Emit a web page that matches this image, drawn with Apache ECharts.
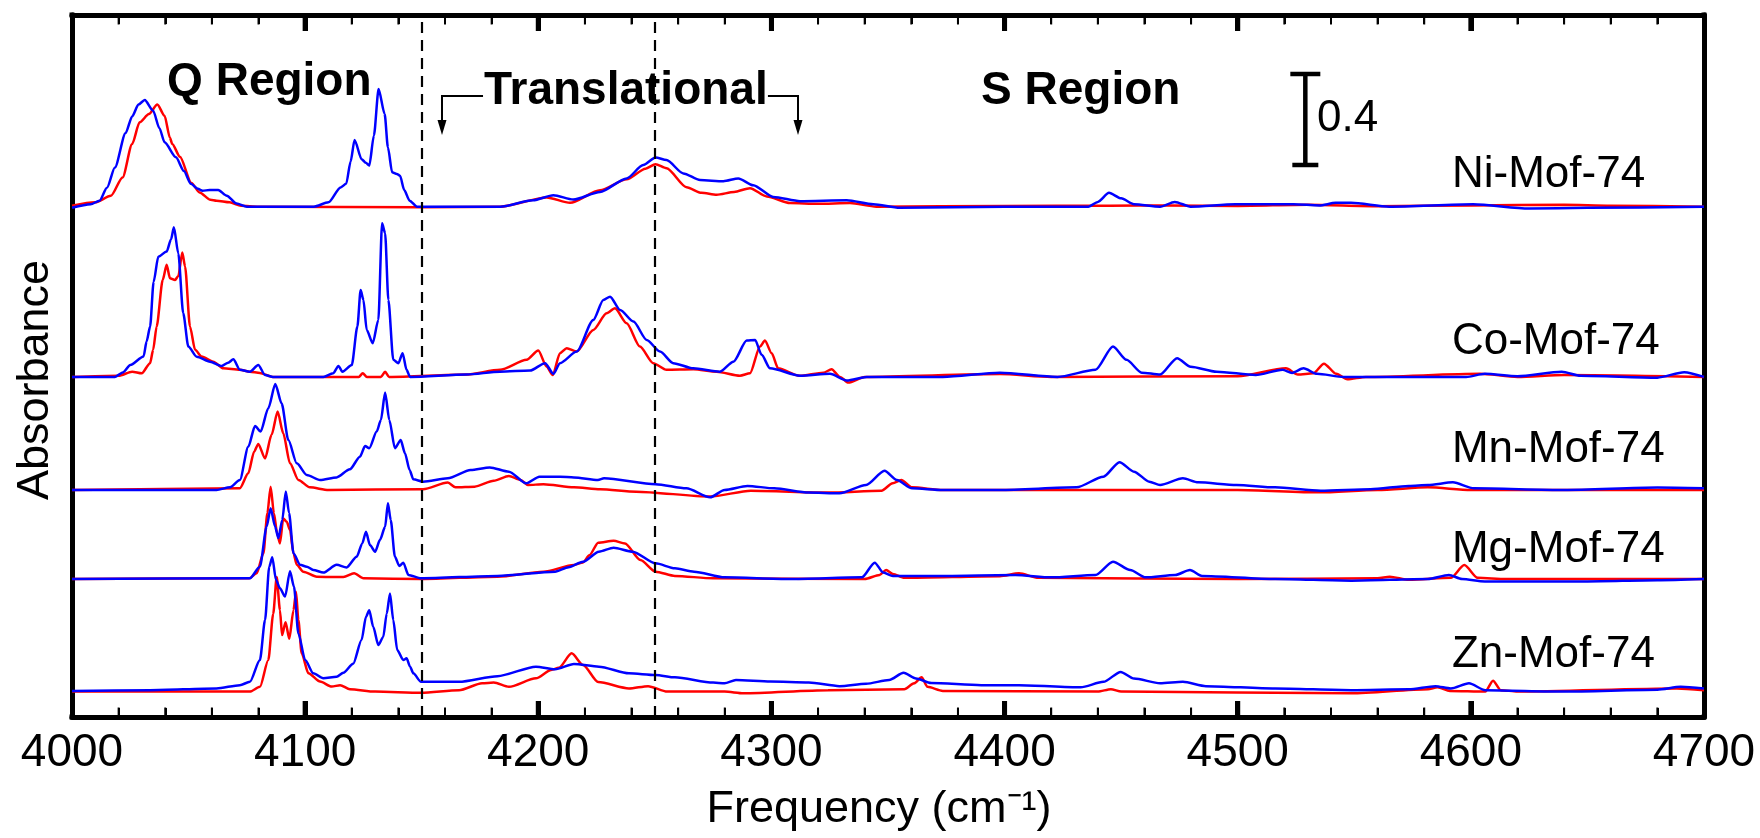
<!DOCTYPE html>
<html><head><meta charset="utf-8">
<script src="https://cdn.jsdelivr.net/npm/echarts@6.0.0/dist/echarts.min.js"></script>
<style>html,body{margin:0;padding:0;background:#fff}#c{width:1760px;height:838px}</style>
</head><body><div id="c"></div>
<script>
// ---------- DATA ----------
const xTickLabels = [4000, 4100, 4200, 4300, 4400, 4500, 4600, 4700];
const samples = ['Ni-Mof-74', 'Co-Mof-74', 'Mn-Mof-74', 'Mg-Mof-74', 'Zn-Mof-74'];
const offsets = [2.149, 1.432, 0.956, 0.581, 0.107];          // vertical stacking offsets (absorbance)
const labelY  = [2.219, 1.516, 1.061, 0.640, 0.198];           // baseline of sample labels (absorbance)
const regionDividers = [4150, 4250];
const scaleBar = {x: 4529, y0: 2.316, y1: 2.716, label: '0.4'};

// [frequency cm-1, absorbance above baseline]
const niRed = [[4000,0.004],[4010,0.018],[4016.7,0.046],[4021.7,0.123],[4025.8,0.264],[4029,0.355],[4033,0.39],[4036.6,0.43],[4039.7,0.383],[4042,0.29],[4043,0.264],[4046.3,0.21],[4051.2,0.1],[4054.7,0.06],[4059.4,0.029],[4062,0.025],[4067.6,0.018],[4072.5,0.004],[4080,0],[4150,-0.003],[4183.6,0],[4203.6,0.039],[4213.6,0.016],[4226.5,0.069],[4237.9,0.115],[4246,0.16],[4250.3,0.179],[4255,0.162],[4263.6,0.082],[4270,0.058],[4276.5,0.05],[4284,0.062],[4290.8,0.078],[4298,0.043],[4308,0.015],[4320,0.012],[4333.7,0.015],[4345,0],[4400,0.003],[4445,0.004],[4470,0.005],[4500,0.003],[4530,0.008],[4560,0.002],[4600,0.005],[4640,0.008],[4660,0.004],[4700,0]];
const niBlue = [[4000,-0.005],[4008,0.01],[4011.8,0.025],[4015,0.08],[4018.4,0.165],[4023,0.31],[4025.8,0.38],[4028.5,0.43],[4031.2,0.449],[4034.8,0.404],[4037.5,0.33],[4039.7,0.271],[4044.6,0.208],[4048,0.15],[4051,0.096],[4054,0.075],[4056,0.067],[4059,0.07],[4062.7,0.07],[4066.4,0.046],[4070.6,0.013],[4075,0],[4103.7,0],[4110,0.018],[4115.2,0.081],[4117.6,0.096],[4119.5,0.19],[4121.2,0.281],[4124.2,0.2],[4126,0.185],[4127.5,0.173],[4129.5,0.3],[4131.5,0.495],[4134.1,0.39],[4135.5,0.25],[4137.3,0.145],[4139.3,0.138],[4140.7,0.13],[4142.5,0.07],[4144.8,0.025],[4148,0],[4183.6,0],[4197.8,0.027],[4206.5,0.048],[4215,0.03],[4226.5,0.062],[4237.9,0.119],[4245,0.175],[4250.3,0.207],[4255,0.196],[4262.2,0.14],[4269.4,0.112],[4279.4,0.107],[4285.8,0.119],[4292.2,0.09],[4300.8,0.041],[4312.3,0.023],[4332.3,0.027],[4343.7,0.01],[4355,-0.005],[4400,0],[4436,0],[4440,0.02],[4444.8,0.058],[4450,0.035],[4455.5,0.01],[4466.7,0],[4473,0.02],[4479.8,0],[4499,0.01],[4524,0.01],[4535,0.005],[4542,0.016],[4548.6,0.016],[4565,0],[4601,0.01],[4625,-0.008],[4650,-0.005],[4700,0]];
const coRed = [[4000,0],[4020,0.005],[4025.8,0.022],[4029.9,0.015],[4033.5,0.058],[4034.8,0.114],[4036.3,0.212],[4038.9,0.408],[4040.6,0.472],[4042,0.416],[4044.2,0.408],[4045.6,0.425],[4047.3,0.524],[4048.5,0.465],[4050.6,0.212],[4052.8,0.114],[4055.6,0.086],[4060.6,0.064],[4064.9,0.036],[4072,0.03],[4076.3,0.022],[4080.6,0.017],[4086,0],[4123,0],[4124.7,0.015],[4126.5,0],[4132.5,0],[4134.3,0.022],[4136,0],[4169,0.01],[4183.6,0.03],[4195,0.072],[4200,0.111],[4203.6,0.043],[4206.2,0.008],[4209.3,0.1],[4212.2,0.121],[4216.5,0.107],[4223.6,0.198],[4229.3,0.268],[4232.9,0.289],[4237.9,0.226],[4243.6,0.128],[4249.3,0.058],[4255,0.03],[4266.5,0.032],[4276.5,0.022],[4286.5,0.005],[4290.8,0.015],[4295.1,0.128],[4297.2,0.153],[4300.1,0.1],[4302.9,0.036],[4312,0.005],[4322.3,0.018],[4325.8,0.032],[4329.4,0],[4333,-0.024],[4340,0],[4398,0.012],[4420,0],[4500,0.003],[4520.7,0.036],[4525.8,0.01],[4532.4,0.015],[4537,0.056],[4542.3,0.013],[4547,-0.01],[4555,0],[4604,0.013],[4620,0],[4640,0.008],[4700,0]];
const coBlue = [[4000,0],[4018.4,0],[4022,0.02],[4025,0.05],[4030.7,0.086],[4032,0.15],[4033.5,0.212],[4035,0.4],[4037,0.506],[4040.6,0.528],[4042.5,0.58],[4043.7,0.63],[4045.6,0.52],[4047.7,0.268],[4049.9,0.128],[4053.5,0.085],[4059.2,0.064],[4064.2,0.046],[4067,0.06],[4069.2,0.074],[4072,0.03],[4076.3,0.022],[4079.9,0.05],[4082.8,0.008],[4086.3,0],[4107.8,0],[4112,0.015],[4114.3,0.046],[4116,0.022],[4120,0.05],[4122.4,0.212],[4123.8,0.366],[4125,0.324],[4126.4,0.198],[4129,0.142],[4131.4,0.24],[4133,0.647],[4134.3,0.605],[4135.7,0.324],[4137.8,0.072],[4140,0.058],[4141.8,0.1],[4143.5,0.03],[4145,0],[4169.3,0.01],[4183.6,0.022],[4196.5,0.027],[4202.9,0.058],[4206.5,0.013],[4209.3,0.058],[4216.5,0.107],[4223.6,0.24],[4227.9,0.324],[4230.8,0.338],[4235.1,0.282],[4240.8,0.233],[4246.5,0.156],[4252.2,0.107],[4257.9,0.058],[4266.5,0.036],[4277.9,0.022],[4283.7,0.064],[4289.4,0.153],[4293,0.156],[4295.8,0.093],[4299.4,0.036],[4312.3,0.005],[4325.1,0.013],[4332.3,-0.015],[4340.9,0],[4373.5,0],[4398,0.018],[4422.7,0],[4439,0.03],[4446.5,0.128],[4452.3,0.072],[4458.8,0.018],[4466.7,0.01],[4474,0.079],[4479.8,0.043],[4491,0.022],[4507.7,0.008],[4519.2,0.03],[4523.3,0.017],[4528.2,0.036],[4534,0.013],[4545.5,0],[4598,0],[4606,0.013],[4620,0.003],[4639,0.022],[4647,0.005],[4680,-0.003],[4691.5,0.02],[4700,0]];
const mnRed = [[4000,0],[4072,0.007],[4075.6,0.07],[4078.1,0.161],[4079.9,0.194],[4082.8,0.133],[4085.6,0.232],[4088.2,0.33],[4090.6,0.239],[4093.5,0.112],[4097.1,0.042],[4102,0.011],[4110,0],[4150.6,0.003],[4161.2,0.031],[4164.5,0.011],[4172.7,0.014],[4180.9,0.039],[4187.4,0.059],[4192.4,0.042],[4195.6,0.021],[4202.2,0.024],[4215.3,0.011],[4226.5,0.003],[4242,-0.007],[4273.7,-0.028],[4291.2,-0.003],[4324.3,-0.011],[4347.2,-0.003],[4352,0.028],[4355.7,0.042],[4360.3,0.011],[4373.5,0],[4500,0],[4535,-0.01],[4560,0],[4581.6,0.011],[4600,0],[4700,0]];
const mnBlue = [[4000,0],[4062,0],[4067.8,0.011],[4072,0.042],[4075.6,0.182],[4078.5,0.269],[4080.9,0.246],[4084.2,0.344],[4087.2,0.446],[4089.9,0.365],[4092.8,0.21],[4096.4,0.112],[4100.7,0.063],[4106.4,0.042],[4113.5,0.053],[4119.2,0.087],[4123.5,0.14],[4125.7,0.185],[4127.5,0.176],[4130.7,0.246],[4132.5,0.295],[4134.3,0.41],[4136.1,0.295],[4138.5,0.176],[4141,0.21],[4142.8,0.155],[4144.8,0.084],[4146.4,0.045],[4150.6,0.035],[4161.2,0.049],[4171,0.084],[4179.2,0.095],[4187.4,0.077],[4194.8,0.028],[4200.5,0.056],[4209.3,0.056],[4215.3,0.053],[4225.6,0.042],[4228.2,0.049],[4250.3,0.024],[4263.5,0.007],[4273.7,-0.031],[4279.9,0],[4289.7,0.017],[4301.2,0.007],[4316,-0.011],[4329.2,-0.014],[4340.6,0.021],[4348.5,0.081],[4353.8,0.042],[4360.3,0.007],[4373.5,0],[4398,0],[4430.9,0.011],[4442.4,0.056],[4449.3,0.117],[4455.5,0.077],[4462.1,0.035],[4466.7,0.021],[4476.5,0.049],[4483,0.032],[4499.5,0.021],[4516,0.011],[4535.6,-0.003],[4557,0.003],[4573.4,0.017],[4581.6,0.021],[4592.3,0.032],[4601.3,0.007],[4640,0],[4680,0.01],[4700,0.007]];
const mgRed = [[4000,0],[4076,0.003],[4079.2,0.024],[4082.1,0.108],[4083.8,0.277],[4085.2,0.389],[4086.6,0.277],[4088,0.192],[4089.2,0.15],[4090.6,0.255],[4092.1,0.241],[4093.5,0.206],[4095,0.108],[4096.4,0.06],[4099.2,0.031],[4105,0.01],[4116.4,0.008],[4121,0.024],[4125,0.003],[4150,0],[4182.5,0.01],[4202.2,0.031],[4215.3,0.059],[4219.2,0.07],[4221.9,0.1],[4225.7,0.153],[4232.3,0.161],[4237.2,0.15],[4243.8,0.08],[4250.3,0.031],[4258.6,0.013],[4275,0.003],[4340,0],[4346.4,0.017],[4349.2,0.038],[4352.1,0.021],[4357,0.005],[4398,0.012],[4406.2,0.024],[4414.5,0.005],[4500,0],[4560,0.003],[4565.2,0.01],[4573.4,-0.003],[4591.4,0.005],[4597.2,0.059],[4602.9,0.005],[4615,0],[4700,0]];
const mgBlue = [[4000,0],[4076.3,0.003],[4080.6,0.052],[4083.5,0.221],[4085.2,0.298],[4087.1,0.221],[4088.5,0.172],[4090.2,0.249],[4091.7,0.369],[4093.1,0.278],[4095,0.109],[4097.8,0.06],[4100.7,0.052],[4103.5,0.038],[4107.8,0.027],[4113.5,0.06],[4117.8,0.049],[4122.1,0.094],[4124.5,0.15],[4126.1,0.199],[4127.8,0.143],[4130,0.115],[4132.1,0.165],[4134.3,0.22],[4135.5,0.319],[4136.7,0.249],[4138.5,0.094],[4140.4,0.055],[4142.1,0.069],[4144.3,0.017],[4149.7,0.003],[4182.5,0.013],[4207.2,0.031],[4213,0.05],[4219.2,0.073],[4226,0.115],[4232.3,0.132],[4240.5,0.115],[4250.3,0.066],[4258.6,0.045],[4266.8,0.031],[4279.9,0.007],[4307.8,0],[4338.8,0.007],[4344.3,0.069],[4348,0.027],[4352.1,0.013],[4373.5,0.013],[4404.6,0.017],[4420,0.007],[4439,0.017],[4446.5,0.073],[4453.9,0.038],[4460.5,0.007],[4473.2,0.017],[4479.5,0.038],[4484.7,0.013],[4516,0],[4548.8,-0.007],[4581.6,0],[4590.6,0.017],[4596.2,0],[4606,-0.01],[4650,-0.01],[4680,-0.005],[4700,0]];
const znRed = [[4000,0],[4076.3,0],[4080.6,0.02],[4084.2,0.133],[4086.3,0.327],[4087.8,0.482],[4089.2,0.343],[4090.1,0.238],[4091.6,0.292],[4093.2,0.222],[4095,0.343],[4096.1,0.42],[4097.1,0.301],[4098.5,0.161],[4101.4,0.077],[4106.4,0.042],[4111.4,0.021],[4115,0.027],[4119.2,0.01],[4130,0],[4149.7,-0.005],[4166,0.006],[4175.9,0.035],[4180.9,0.038],[4187.4,0.02],[4199,0.056],[4205.5,0.091],[4208.8,0.1],[4214.3,0.161],[4219.2,0.112],[4225.7,0.04],[4238.9,0.013],[4247.1,0.023],[4255.3,0],[4279.9,0],[4288,-0.007],[4324.3,0.006],[4357,0.01],[4361.2,0.035],[4364.4,0.06],[4366.9,0.02],[4373.5,0.003],[4440,0],[4445.6,0.01],[4450,0],[4548.8,-0.007],[4581.6,0.01],[4585.7,0.018],[4591,0.003],[4606.2,0],[4609.5,0.046],[4612.8,0.006],[4620,0],[4688.3,0.013],[4700,0.006]];
const znBlue = [[4000,0.002],[4033.5,0.006],[4062,0.013],[4072,0.027],[4076.3,0.041],[4080.6,0.133],[4082.8,0.301],[4084.6,0.526],[4085.9,0.566],[4087.5,0.47],[4089.2,0.435],[4091.4,0.4],[4093.5,0.507],[4095.2,0.442],[4097.1,0.245],[4100,0.133],[4103.5,0.077],[4107.8,0.056],[4113.5,0.062],[4116.4,0.079],[4120.6,0.117],[4124.2,0.217],[4126.1,0.315],[4127.5,0.343],[4129.2,0.273],[4131.4,0.196],[4133.5,0.23],[4135,0.329],[4136.4,0.413],[4137.8,0.301],[4139.5,0.175],[4142.1,0.133],[4143.5,0.14],[4145,0.105],[4146.4,0.077],[4149.7,0.041],[4166,0.041],[4182.5,0.065],[4199,0.105],[4207.2,0.094],[4215.3,0.116],[4226,0.105],[4238.9,0.077],[4250.3,0.07],[4258.6,0.06],[4275,0.038],[4279.9,0.035],[4284.8,0.049],[4299.6,0.042],[4316,0.038],[4329.2,0.023],[4340.6,0.033],[4350.5,0.049],[4356.7,0.079],[4362,0.055],[4368.5,0.036],[4390,0.027],[4406.2,0.027],[4432.6,0.018],[4442.4,0.041],[4449.8,0.083],[4455.5,0.055],[4466.7,0.035],[4476.5,0.041],[4486.4,0.023],[4516,0.013],[4548.8,0.006],[4573.4,0.01],[4584.8,0.023],[4591.4,0.013],[4599.2,0.035],[4606.2,0.006],[4640,0],[4680,0.008],[4690,0.02],[4700,0.013]];

const redSets  = [niRed, coRed, mnRed, mgRed, znRed];
const blueSets = [niBlue, coBlue, mnBlue, mgBlue, znBlue];

// ---------- CHART ----------
const FONT = '"Liberation Sans", Arial, sans-serif';
const RED = '#ff0000', BLUE = '#0000ff';
const X_MIN = 4000, X_MAX = 4700, MAJOR = 100, MINOR = 20, Y_MAX = 2.956;
const chart = echarts.init(document.getElementById('c'), null, {renderer: 'canvas'});

const series = [];
samples.forEach((name, i) => {
  [[redSets[i], RED, 'red'], [blueSets[i], BLUE, 'blue']].forEach(([arr, col, tag]) => {
    series.push({
      name: name + ' ' + tag, type: 'line', data: arr.map(p => [p[0], p[1] + offsets[i]]),
      showSymbol: false, symbol: 'none', smooth: 0.25, smoothMonotone: 'x',
      lineStyle: {color: col, width: 2.5}, itemStyle: {color: col}, silent: true, z: 3
    });
  });
});
series[0].markLine = {
  silent: true, symbol: ['none', 'none'], label: {show: false},
  lineStyle: {color: '#000', width: 2.2, type: [11, 7]},
  data: regionDividers.map(v => ({xAxis: v}))
};

function xAxisCfg(pos, withLabels) {
  return {
    type: 'value', position: pos, min: X_MIN, max: X_MAX, interval: MAJOR,
    axisLine: {show: true, onZero: false, lineStyle: {color: '#000', width: 5}},
    axisTick: {show: true, inside: true, length: 16, lineStyle: {color: '#000', width: 5}},
    minorTick: {show: true, splitNumber: MAJOR / MINOR, length: 9, lineStyle: {color: '#000', width: 2}},
    splitLine: {show: false},
    axisLabel: withLabels
      ? {show: true, margin: 13, color: '#000', fontSize: 46, fontFamily: FONT,
         formatter: v => xTickLabels.includes(v) ? String(v) : ''}
      : {show: false}
  };
}
const xBottom = xAxisCfg('bottom', true);
Object.assign(xBottom, {
  name: 'Frequency (cm\u207B\u00B9)', nameLocation: 'middle', nameGap: 70,
  nameTextStyle: {color: '#000', fontSize: 45, fontFamily: FONT, padding: [0, 18, 0, 0]}
});

const option = {
  animation: false,
  backgroundColor: '#fff',
  grid: {left: 72, right: 56, top: 15, bottom: 121},
  xAxis: [xBottom, xAxisCfg('top', false)],
  yAxis: [
    {type: 'value', min: 0, max: Y_MAX, position: 'left',
     axisLine: {show: true, lineStyle: {color: '#000', width: 5}}, axisTick: {show: false},
     axisLabel: {show: false}, splitLine: {show: false},
     name: 'Absorbance', nameLocation: 'middle', nameGap: 14,
     nameTextStyle: {color: '#000', fontSize: 45, fontFamily: FONT, padding: [0, 28, 0, 0]}},
    {type: 'value', min: 0, max: Y_MAX, position: 'right',
     axisLine: {show: true, lineStyle: {color: '#000', width: 5}}, axisTick: {show: false},
     axisLabel: {show: false}, splitLine: {show: false}}
  ],
  series: series
};
chart.setOption(option);

// ---------- ANNOTATIONS (placed in data coordinates) ----------
const px = (x, y) => chart.convertToPixel({xAxisIndex: 0, yAxisIndex: 0}, [x, y]);
const g = [];
const pTL = px(X_MIN, Y_MAX), pBR = px(X_MAX, 0);

// corner squares so the thick frame closes cleanly
[[pTL[0], pTL[1]], [pBR[0], pTL[1]], [pTL[0], pBR[1]], [pBR[0], pBR[1]]].forEach(c => {
  g.push({type: 'rect', shape: {x: c[0] - 2.5, y: c[1] - 2.5, width: 5, height: 5}, style: {fill: '#000'}, z: 20, silent: true});
});

// inward ticks on the top frame and bottom frame
for (let v = X_MIN + MINOR; v < X_MAX; v += MINOR) {
  const major = (v - X_MIN) % MAJOR === 0;
  const xp = px(v, 0)[0];
  const len = major ? 16 : 9.5, w = major ? 5 : 2;
  g.push({type: 'line', shape: {x1: xp, y1: pBR[1], x2: xp, y2: pBR[1] - len}, style: {stroke: '#000', lineWidth: w}, z: 20, silent: true});
  g.push({type: 'line', shape: {x1: xp, y1: pTL[1], x2: xp, y2: pTL[1] + len}, style: {stroke: '#000', lineWidth: w}, z: 20, silent: true});
}

function txt(str, x, yBase, fs, bold) {
  const p = px(x, yBase);
  g.push({type: 'text', x: p[0], y: p[1] - 0.35 * fs, z: 21, silent: true,
    style: {text: str, fill: '#000', fontSize: fs, fontWeight: bold ? 'bold' : 'normal',
            fontFamily: FONT, align: 'left', verticalAlign: 'middle'}});
}
txt('Q Region', 4040.8, 2.606, 46, true);
txt('Translational', 4176.7, 2.568, 46, true);
txt('S Region', 4389.9, 2.568, 46, true);
samples.forEach((s, i) => txt(s, 4591.9, labelY[i], 44, false));

// arrows from "Translational"
function arrow(xText, xTurn, yTop, yTip) {
  const a = px(xText, yTop), b = px(xTurn, yTop), c = px(xTurn, yTip);
  g.push({type: 'polyline', shape: {points: [a, b, [c[0], c[1] - 12]]},
          style: {stroke: '#000', lineWidth: 2, fill: 'none'}, z: 21, silent: true});
  g.push({type: 'polygon', shape: {points: [[c[0] - 4.5, c[1] - 15], [c[0] + 4.5, c[1] - 15], [c[0], c[1]]]},
          style: {fill: '#000'}, z: 21, silent: true});
}
arrow(4176.3, 4158.7, 2.615, 2.451);
arrow(4298.5, 4311.4, 2.615, 2.451);

// scale bar
(function () {
  const t = px(scaleBar.x, scaleBar.y1), b = px(scaleBar.x, scaleBar.y0);
  const st = {stroke: '#000', lineWidth: 4.5};
  g.push({type: 'line', shape: {x1: t[0], y1: t[1], x2: b[0], y2: b[1]}, style: st, z: 21, silent: true});
  g.push({type: 'line', shape: {x1: t[0] - 15, y1: t[1] + 2, x2: t[0] + 15, y2: t[1] + 2}, style: st, z: 21, silent: true});
  g.push({type: 'line', shape: {x1: b[0] - 13, y1: b[1] - 2, x2: b[0] + 13, y2: b[1] - 2}, style: st, z: 21, silent: true});
})();
txt(scaleBar.label, 4534, 2.455, 44, false);

chart.setOption({graphic: g});
</script>
</body></html>
